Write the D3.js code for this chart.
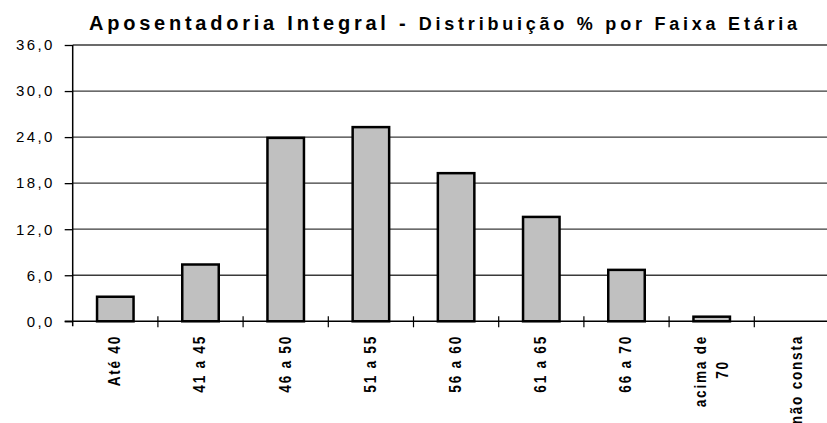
<!DOCTYPE html>
<meta charset="utf-8">
<script src="https://d3js.org/d3.v7.min.js"></script>
<style>
  body { margin: 0; background: #fff; }
  svg { display: block; }
</style>
<div id="chart"></div>
<script>
  // data
  var categories = ["Até 40", "41 a 45", "46 a 50", "51 a 55", "56 a 60", "61 a 65", "66 a 70", "acima de 70", "não consta"];
  var labelLines = [["Até 40"], ["41 a 45"], ["46 a 50"], ["51 a 55"], ["56 a 60"], ["61 a 65"], ["66 a 70"], ["acima de", "70"], ["não consta"]];
  var values = [3.2, 7.4, 23.9, 25.3, 19.3, 13.6, 6.7, 0.6, 0.0];
  var yTicks = [0, 6, 12, 18, 24, 30, 36];

  var W = 827, H = 423;
  var plotLeft = 72.7, step = 85.2, plotTop = 45, plotBottom = 321.3;

  var svg = d3.select("#chart").append("svg")
      .attr("width", W)
      .attr("height", H);

  var x = d3.scaleBand()
      .domain(categories)
      .range([plotLeft, plotLeft + step * categories.length])
      .padding(0);

  var y = d3.scaleLinear()
      .domain([0, 36])
      .range([plotBottom, plotTop]);

  var fmt = function (d) { return d3.format(".1f")(d).replace(".", ","); };

  // gridlines
  svg.append("g")
      .selectAll("line")
      .data(yTicks.filter(function (d) { return d > 0; }))
      .enter()
      .append("line")
      .attr("x1", plotLeft)
      .attr("x2", x.range()[1])
      .attr("y1", function (d) { return y(d); })
      .attr("y2", function (d) { return y(d); })
      .attr("stroke", "#3a3a3a")
      .attr("stroke-width", 1.3);

  // y axis
  var yAxis = svg.append("g")
      .attr("transform", "translate(" + plotLeft + ",0)")
      .call(d3.axisLeft(y).tickValues(yTicks).tickFormat(fmt).tickSize(8).tickPadding(10));
  yAxis.select(".domain").remove();
  yAxis.selectAll(".tick line").attr("stroke", "#000").attr("stroke-width", 1.3);
  yAxis.selectAll("text")
      .attr("fill", "#000")
      .style("font-family", "Arial, 'Liberation Sans', sans-serif")
      .style("font-size", "15px")
      .style("letter-spacing", "2.4px");
  yAxis.append("line")
      .attr("x1", 0).attr("x2", 0)
      .attr("y1", plotTop).attr("y2", plotBottom + 5)
      .attr("stroke", "#000").attr("stroke-width", 1.5);

  // bars
  var bw = 36.5;
  svg.append("g")
      .selectAll("rect")
      .data(categories.map(function (c, i) { return { c: c, v: values[i] }; })
          .filter(function (d) { return d.v > 0; }))
      .enter()
      .append("rect")
      .attr("x", function (d) { return x(d.c) + (x.bandwidth() - bw) / 2; })
      .attr("width", bw)
      .attr("y", function (d) { return y(d.v); })
      .attr("height", function (d) { return y(0) - y(d.v); })
      .attr("fill", "#c0c0c0")
      .attr("stroke", "#000")
      .attr("stroke-width", 2.5);

  // x axis baseline and boundary ticks
  svg.append("line")
      .attr("x1", plotLeft - 8).attr("x2", x.range()[1])
      .attr("y1", plotBottom).attr("y2", plotBottom)
      .attr("stroke", "#000").attr("stroke-width", 1.5);
  svg.append("g")
      .selectAll("line")
      .data(categories.slice(1))
      .enter()
      .append("line")
      .attr("x1", function (d) { return x(d); })
      .attr("x2", function (d) { return x(d); })
      .attr("y1", plotBottom - 5)
      .attr("y2", plotBottom + 6)
      .attr("stroke", "#000").attr("stroke-width", 1.2);

  // category labels, rotated and condensed
  var labelTop = 335;
  var lab = svg.append("g")
      .selectAll("text")
      .data(labelLines)
      .enter()
      .append("text")
      .attr("transform", function (d, i) {
          return "translate(" + (x(categories[i]) + x.bandwidth() / 2 - 1 - (d.length - 1) * 11) + "," + labelTop + ") rotate(-90) scale(0.8,1)";
      })
      .attr("text-anchor", "end")
      .style("font-family", "'Liberation Sans Narrow', 'Arial Narrow', Arial, 'Liberation Sans', sans-serif")
      .style("font-weight", "bold")
      .style("font-size", "17px")
      .style("letter-spacing", "2.2px")
      .attr("fill", "#000");

  lab.each(function (lines) {
      var t = d3.select(this);
      var first = t.append("tspan").attr("x", 0).attr("dy", "0.35em").text(lines[0]);
      if (lines.length > 1) {
          var len = first.node().getComputedTextLength();
          t.append("tspan")
              .attr("x", -(len - 4) / 2)
              .attr("dy", 22)
              .attr("text-anchor", "middle")
              .text(lines[1]);
      }
  });

  // title
  var title = svg.append("text")
      .attr("x", 89)
      .attr("y", 30)
      .attr("textLength", 708)
      .attr("lengthAdjust", "spacing")
      .style("font-family", "Arial, 'Liberation Sans', sans-serif")
      .style("font-weight", "bold")
      .attr("fill", "#000");
  title.append("tspan").style("font-size", "20px").text("Aposentadoria Integral - ");
  title.append("tspan").style("font-size", "18px").text("Distribuição % por Faixa Etária");
</script>
